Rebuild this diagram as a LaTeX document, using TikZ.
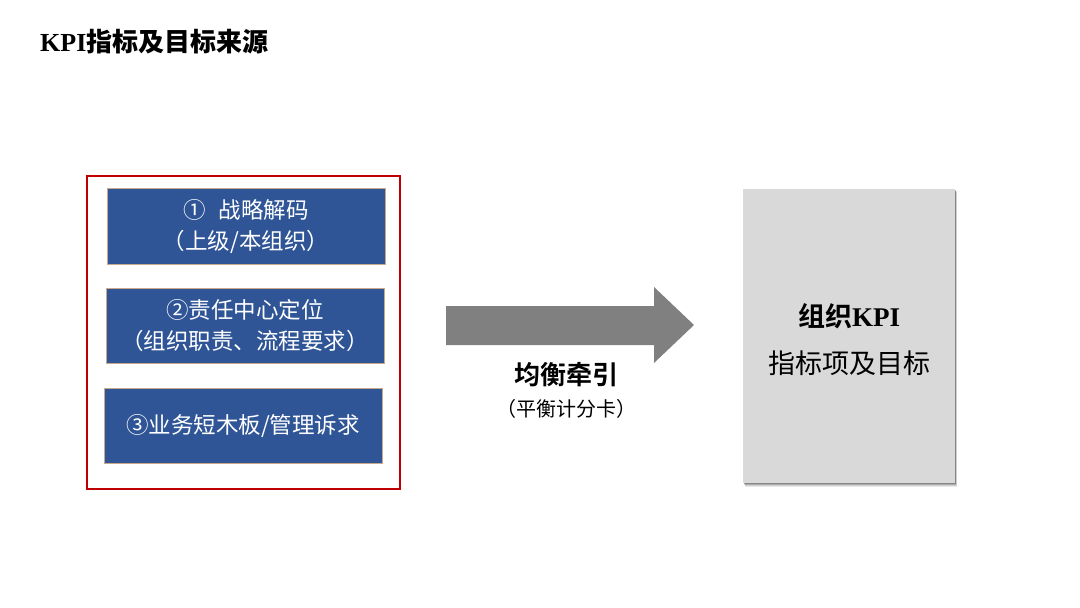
\documentclass[tikz,border=0pt]{standalone}
\usepackage{fontspec}
\setmainfont{Liberation Serif}
\newfontfamily\cjk{Noto Sans CJK SC}
\newfontfamily\cjkb{Noto Sans CJK SC Bold}
\usetikzlibrary{shadows}
\definecolor{kblue}{HTML}{2F5597}
\definecolor{kred}{HTML}{C00000}
\definecolor{kgray}{HTML}{808080}
\definecolor{kbox}{HTML}{D9D9D9}
\definecolor{kedge}{HTML}{C9A98A}
\tikzset{
  srcbox/.style={draw=kedge, line width=0.6pt, fill=kblue},
  lbl/.style={inner sep=0pt, align=center}
}
\begin{document}
\begin{tikzpicture}[x=1pt,y=-1pt]
\useasboundingbox (0,0) rectangle (1080,608);
\fill[white] (0,0) rectangle (1080,608);
% title
\node[lbl, anchor=west] (title) at (40,42) {\fontsize{26}{28}\selectfont\bfseries KPI\cjkb 指标及目标来源};
% red frame
\draw[kred, line width=2pt] (87,176) rectangle (400,489);
% source boxes
\path[srcbox] (107,188) rectangle (385,264);
\node[lbl, text=white, font=\fontsize{22.5}{31}\selectfont\cjk] (b1) at (246,226) {①\hspace{0.6em}战略解码\\（上级/本组织）};
\path[srcbox] (106,288) rectangle (384,363);
\node[lbl, text=white, font=\fontsize{22.5}{31}\selectfont\cjk] (b2) at (245,325.5) {②责任中心定位\\（组织职责、流程要求）};
\path[srcbox] (104,388) rectangle (382,463);
\node[lbl, text=white, font=\fontsize{22.5}{28}\selectfont\cjk] (b3) at (243,425.5) {③业务短木板/管理诉求};
% big arrow
\fill[kgray] (446,306) -- (654,306) -- (654,287) -- (694,325) -- (654,363) -- (654,345) -- (446,345) -- cycle;
\node[lbl, font=\fontsize{26}{30}\selectfont\cjkb] (t1) at (566,375) {均衡牵引};
\node[lbl, font=\fontsize{20}{22}\selectfont\cjk] (t2) at (566,409) {（平衡计分卡）};
% target box with soft shadow
\foreach \i/\o in {4/0.08,3/0.12,2/0.16,1/0.22}{
  \fill[black, opacity=\o] (743+\i*0.5,189+\i*0.8) rectangle (955+\i*0.6,483+\i*0.9);
}
\fill[kbox] (743,189) rectangle (955,483);
\node[lbl, font=\fontsize{27}{30}\selectfont\cjkb] (k1) at (849,316) {组织\bfseries\rmfamily KPI};
\node[lbl, font=\fontsize{27}{30}\selectfont\cjk] (k2) at (849,363) {指标项及目标};
\end{tikzpicture}
\end{document}
